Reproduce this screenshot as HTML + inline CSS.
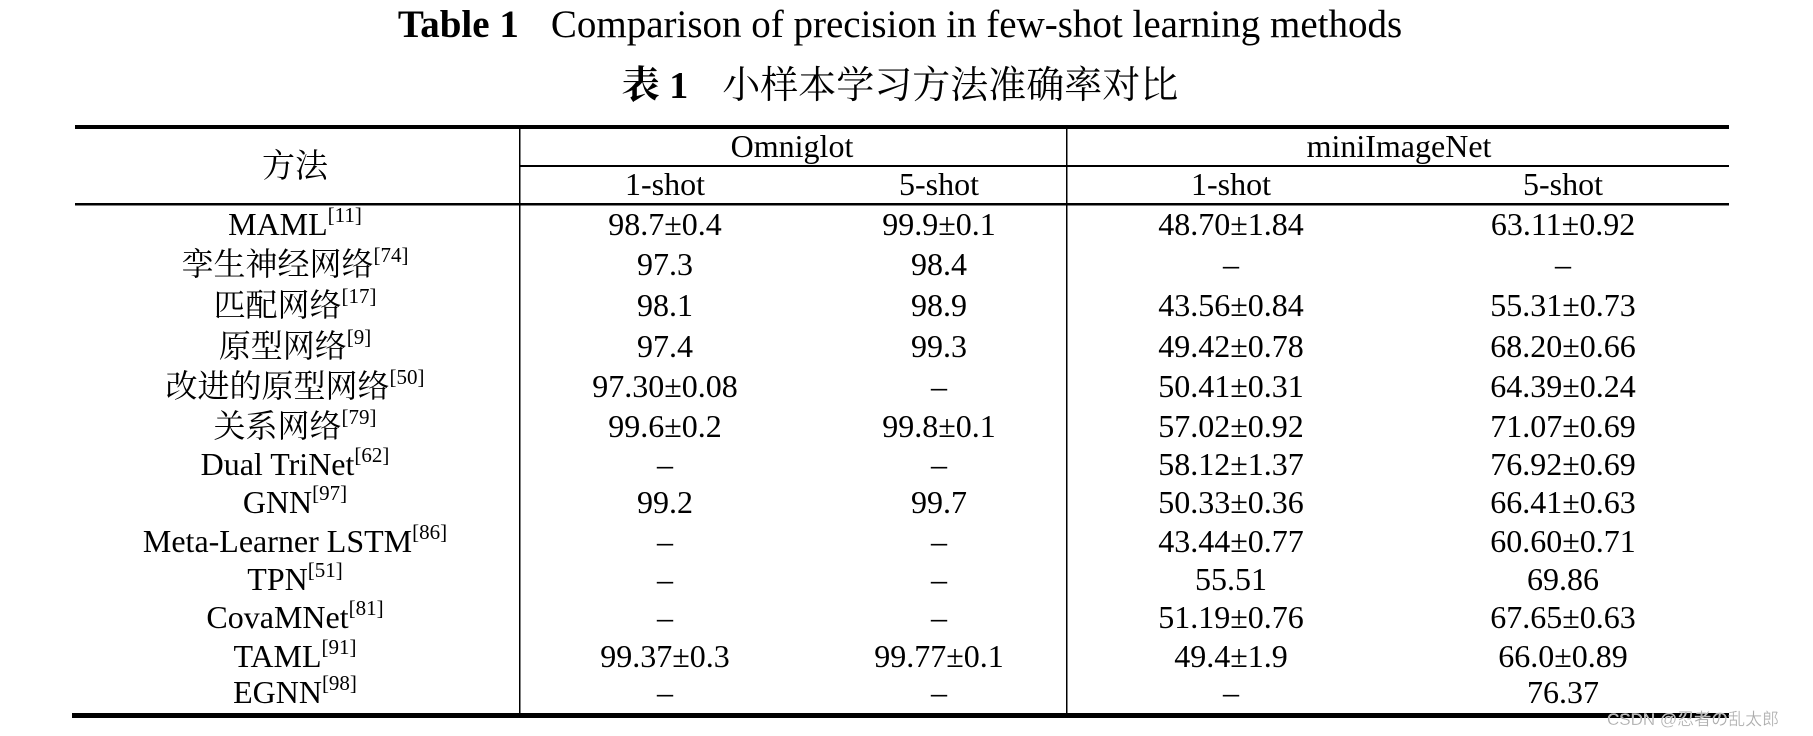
<!DOCTYPE html>
<html><head><meta charset="utf-8"><style>
html,body{margin:0;padding:0;background:#fff;}
svg{display:block}
.t{font-family:"Liberation Serif","Noto Serif CJK SC",serif;fill:#000}
</style></head><body>
<svg id="tbl" width="1813" height="736" viewBox="0 0 1813 736" xmlns="http://www.w3.org/2000/svg">
<text class="t" x="900" y="37" font-size="39" text-anchor="middle"><tspan font-weight="bold">Table 1</tspan><tspan dx="32">Comparison of precision in few-shot learning methods</tspan></text>
<text class="t" x="900" y="98" font-size="38" text-anchor="middle"><tspan font-weight="bold">表 1</tspan><tspan dx="34">小样本学习方法准确率对比</tspan></text>
<rect x="75" y="125" width="1654" height="4" fill="#000"/>
<rect x="520" y="165" width="1209" height="2" fill="#000"/>
<rect x="75" y="203" width="1654" height="2.5" fill="#000"/>
<rect x="72" y="713" width="1657" height="5" fill="#000"/>
<rect x="519" y="129" width="1.5" height="585" fill="#000"/>
<rect x="1066" y="129" width="1.5" height="585" fill="#000"/>
<text class="t" x="295" y="177" font-size="33" text-anchor="middle">方法</text>
<text class="t" x="792" y="157" font-size="32" text-anchor="middle">Omniglot</text>
<text class="t" x="1399" y="157" font-size="32" text-anchor="middle">miniImageNet</text>
<text class="t" x="665" y="195" font-size="32" text-anchor="middle">1-shot</text>
<text class="t" x="939" y="195" font-size="32" text-anchor="middle">5-shot</text>
<text class="t" x="1231" y="195" font-size="32" text-anchor="middle">1-shot</text>
<text class="t" x="1563" y="195" font-size="32" text-anchor="middle">5-shot</text>
<g id="rows"></g>
<text x="1607" y="725" font-size="17" fill="#aaa" stroke="#fff" stroke-width="0.3" font-family="'Liberation Sans','Noto Sans CJK SC',sans-serif">CSDN @忍者の乱太郎</text>
</svg>
<script>
const methods = ["MAML","孪生神经网络","匹配网络","原型网络","改进的原型网络","关系网络","Dual TriNet","GNN","Meta-Learner LSTM","TPN","CovaMNet","TAML","EGNN"];
const refs = ["11","74","17","9","50","79","62","97","86","51","81","91","98"];
const omni1 = ["98.7±0.4","97.3","98.1","97.4","97.30±0.08","99.6±0.2","–","99.2","–","–","–","99.37±0.3","–"];
const omni5 = ["99.9±0.1","98.4","98.9","99.3","–","99.8±0.1","–","99.7","–","–","–","99.77±0.1","–"];
const mini1 = ["48.70±1.84","–","43.56±0.84","49.42±0.78","50.41±0.31","57.02±0.92","58.12±1.37","50.33±0.36","43.44±0.77","55.51","51.19±0.76","49.4±1.9","–"];
const mini5 = ["63.11±0.92","–","55.31±0.73","68.20±0.66","64.39±0.24","71.07±0.69","76.92±0.69","66.41±0.63","60.60±0.71","69.86","67.65±0.63","66.0±0.89","76.37"];
const NS = "http://www.w3.org/2000/svg";
const g = document.getElementById('rows');
const baselines = [235,275,316,357,397,437,475,513,552,590,628,667,703];
const cols = [[omni1,665],[omni5,939],[mini1,1231],[mini5,1563]];
function mk(x,y,txt){
  const t=document.createElementNS(NS,'text');
  t.setAttribute('class','t');t.setAttribute('x',x);t.setAttribute('y',y);
  t.setAttribute('font-size','32');t.setAttribute('text-anchor','middle');
  t.textContent=txt;g.appendChild(t);return t;
}
methods.forEach((m,i)=>{
  const y=baselines[i];
  const t=mk(295,y,'');
  
  
  const a=document.createElementNS(NS,'tspan');a.textContent=m;t.appendChild(a);
  const s=document.createElementNS(NS,'tspan');s.setAttribute('dy','-13');s.setAttribute('font-size','21');s.textContent='['+refs[i]+']';t.appendChild(s);
  cols.forEach(([arr,x])=>{
    const c=mk(x,y,arr[i]);
    
    
  });
});
</script>
</body></html>
